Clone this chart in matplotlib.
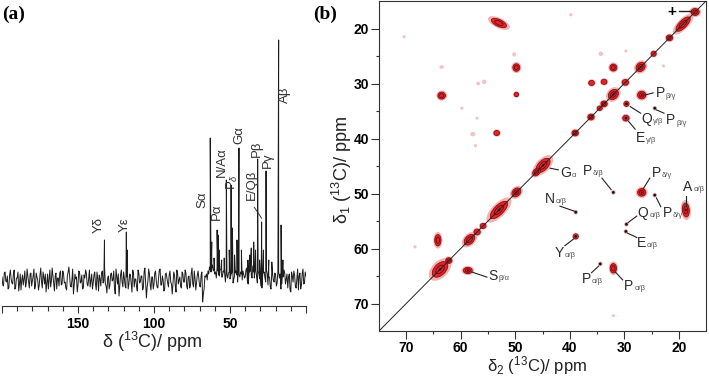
import numpy as np
import matplotlib
matplotlib.use("Agg")
import matplotlib.pyplot as plt
from matplotlib.patches import Ellipse

plt.rcParams["font.family"] = ["Liberation Sans", "DejaVu Sans"]
plt.rcParams["mathtext.fontset"] = "custom"
plt.rcParams["mathtext.rm"] = "Liberation Sans"
plt.rcParams["mathtext.it"] = "Liberation Sans:italic"
plt.rcParams["mathtext.bf"] = "Liberation Sans:bold"

# -----------------------------
# (a) 1D 13C spectrum data
# -----------------------------
noise_ppm = list(range(200, -1, -1))
noise = [
    3, -6, 8, -2, -9, 5, 1, -4, 10, -7, 2, -11, 6, 0, -5, 9, -3, 4, -8, 7,
    -1, 11, -6, 3, -10, 5, -2, 8, -4, -12, 6, 1, -7, 12, -3, 4, -9, 2, 7, -5,
    9, -3, -8, 4, 13, -6, 0, -14, 6, 3, -5, 8, -2, -9, 5, 10, -4, 1, -7, 6,
    -3, 8, -10, 2, 5, -6, 9, -1, -4, -13, 4, -5, 7, 0, -8, 11, -4, -16, 5, -2,
    8, -6, 3, -9, 6, -3, 10, -7, 1, -11, 7, -2, 4, -8, 12, -18, -1, 6, -10, 3,
    -4, 9, -7, 2, 11, -5, 0, -9, 7, -3, 5, -2, -14, 8, -6, 10, -4, 3, -8, 6,
    -2, 7, -9, 4, -5, 12, -7, 1, -3, 9, -6, 5, -22, -8, 3, 0, 6, 10, 12, 9,
    6, 2, 9, 4, 11, 3, 8, -2, 5, 7, 1, 6, -3, 4, 9, -2, 5, 8, 0, 6,
    3, 12, -4, 8, 5, 14, 2, 9, -3, 6, 4, -8, 7, 2, 10, -5, 3, -9, 6, -2,
    5, -3, 8, 6, -4, 3, 7, 1, -8, 6, -12, 4, 9, -6, 2, -10, 7, -5, 11, -3,
    4,
]
half_ppm = [199.5 - i for i in range(200)]
noise_half = [
    -5, 7, -1, 4, -8, 10, -3, 6, -9, 2, 8, -4, -10, 5, 1, -7, 11, -2, 6, -6,
    4, -9, 7, 0, -5, 12, -8, 3, 6, -3, -9, 10, -1, 4, -11, 7, 2, -6, 9, -4,
    6, -2, -10, 8, 3, -7, 11, -5, 1, -12, 9, -3, 5, -8, 2, 7, -6, 10, -1, -9,
    5, -4, 8, -11, 1, 7, -3, 12, -6, 2, -9, 6, -1, 9, -14, 3, 6, -5, 10, -7,
    2, -8, 9, -4, 5, -12, 7, 1, -6, 10, -3, 4, -10, 8, -2, -7, 11, -5, 3, -9,
    7, -1, -8, 10, -5, 4, -11, 6, 2, -7, 9, -4, -3, 5, -12, 7, 0, -6, 8, -2,
    10, -6, 3, -8, 7, -4, 9, -10, 5, 1, -7, 8, -14, 4, 6, 9, 13, 8, 15, 11,
    8, 12, 5, 10, 3, 9, 6, 11, 2, 8, 4, 10, 1, 7, 5, 12, 3, 6, 9, 2,
    10, -3, 7, 11, 2, 8, 12, 4, 9, 1, -6, 5, 8, -2, 6, 3, -7, 9, 0, 7,
    -6, 9, 2, -9, 7, 10, -4, 6, 3, -10, 8, -2, 5, -8, 11, 4, -9, 6, -4, 8,
]
peak_ppm = [132.6, 118.2, 117.6, 63.0, 62.0, 60.5, 58.5, 57.8, 57.0, 55.5,
            53.8, 52.4, 50.5, 49.3, 48.4, 47.0, 45.4, 44.1, 42.5, 38.2,
            37.0, 36.0, 34.4, 33.2, 31.8, 30.5, 29.2, 28.0, 26.3, 24.5,
            22.5, 18.0, 16.4, 15.2]
peak_height = [40, 48, 30, 142, 38, 22, 50, 45, 30, 20,
               22, 100, 30, 95, 52, 25, 40, 132, 30, 20,
               25, 32, 38, 30, 121, 20, 58, 30, 109, 20,
               18, 240, 55, 20]

label_a = ["Y\u03b4", "Y\u03b5", "S\u03b1", "P\u03b1", "N/A\u03b1", "P$_\u03b4$",
           "G\u03b1", "E/Q\u03b2", "P\u03b2", "P\u03b3", "A\u03b2"]
label_a_ppm = [136.4, 119.1, 68.0, 58.8, 55.6, 48.2, 44.1, 35.7, 32.2, 25.2, 13.8]
label_a_y = [47, 48, 72, 60, 103, 90, 136, 80, 123, 112, 177]

# -----------------------------
# (b) 2D 13C-13C correlation data
# -----------------------------
red_x = [17.0, 19.2, 21.7, 24.6, 27.0, 29.8, 32.0, 33.7, 34.5, 36.1,
         39.0, 44.9, 46.1, 49.8, 53.0, 55.9, 57.0, 58.4, 62.2, 63.8,
         53.0, 49.8, 49.8, 63.5, 32.0, 36.0, 33.7, 26.8, 29.6, 29.7,
         53.4, 57.8, 55.7, 56.8, 63.5, 50.2, 34.3, 57.0, 64.2, 58.7,
         26.8, 18.7, 38.9, 32.0, 32.0, 68.4, 70.4, 57.3, 39.8, 29.7,
         22.8, 59.8, 18.0]
red_y = [17.0, 19.2, 21.7, 24.6, 27.0, 29.8, 32.0, 33.7, 34.5, 36.1,
         39.0, 44.9, 46.1, 49.8, 53.0, 55.9, 57.0, 58.4, 62.2, 63.8,
         19.0, 27.1, 32.0, 32.2, 27.1, 29.9, 29.7, 32.1, 33.7, 36.3,
         39.0, 39.2, 29.7, 30.0, 27.0, 24.7, 24.6, 36.3, 58.5, 64.0,
         49.8, 53.0, 57.8, 63.6, 72.2, 59.7, 21.5, 41.3, 17.5, 24.1,
         26.8, 34.5, 18.5]
red_w = [1.3, 3.0, 1.0, 0.8, 1.6, 1.0, 1.8, 1.0, 0.8, 1.0,
         1.0, 2.8, 1.4, 1.6, 3.6, 0.9, 1.0, 2.0, 1.0, 3.0,
         2.6, 1.1, 0.7, 1.2, 1.1, 0.8, 0.8, 1.3, 0.8, 1.0,
         0.9, 0.8, 0.7, 0.6, 0.7, 0.6, 0.7, 0.5, 1.8, 1.4,
         1.3, 2.2, 0.8, 1.5, 0.5, 0.5, 0.5, 0.5, 0.5, 0.5,
         0.5, 0.5, 1.0]
red_h = [1.1, 1.2, 0.9, 0.8, 1.3, 0.9, 1.4, 0.9, 0.7, 0.9,
         0.9, 1.5, 1.0, 1.2, 1.5, 0.8, 0.9, 1.3, 0.9, 1.8,
         1.1, 1.2, 0.7, 1.1, 1.1, 0.9, 0.9, 1.2, 0.8, 0.9,
         0.8, 0.7, 0.7, 0.6, 0.6, 0.7, 0.7, 0.5, 1.0, 1.0,
         1.2, 1.1, 0.8, 1.0, 0.5, 0.5, 0.5, 0.5, 0.5, 0.5,
         0.5, 0.5, 0.8]
red_tilt = [0, 45, 0, 0, 45, 0, 45, 0, 0, 0,
            0, 45, 45, 45, 45, 0, 0, 45, 0, 45,
            155, 0, 0, 0, 0, 90, 90, 0, 0, 0,
            0, 0, 0, 0, 0, 0, 0, 0, 90, 0,
            0, 95, 0, 90, 0, 0, 0, 0, 0, 0,
            0, 0, 0]
red_level = [3, 3, 3, 2, 4, 2, 4, 3, 2, 3,
             3, 4, 3, 4, 4, 2, 2, 3, 3, 4,
             3, 3, 2, 3, 3, 2, 2, 4, 2, 2,
             2, 1, 1, 1, 1, 1, 1, 1, 3, 4,
             4, 4, 2, 3, 1, 1, 1, 1, 1, 1,
             1, 1, 1]

black_x = [32.0, 24.4, 38.9, 29.6, 29.7, 34.4, 24.4, 29.6, 29.7, 38.9]
black_y = [49.8, 50.3, 53.4, 55.6, 56.9, 62.8, 34.5, 33.7, 36.3, 57.8]

b_main = ["P", "Q", "P", "E", "G", "P", "P", "A", "P", "Q", "E", "N", "Y", "P", "P", "S"]
b_sub = ["\u03b2/\u03b3", "\u03b3/\u03b2", "\u03b2/\u03b3", "\u03b3/\u03b2", "\u03b1",
         "\u03b4/\u03b2", "\u03b4/\u03b3", "\u03b1/\u03b2", "\u03b4/\u03b3", "\u03b1/\u03b2",
         "\u03b1/\u03b2", "\u03b1/\u03b2", "\u03b1/\u03b2", "\u03b1/\u03b2", "\u03b1/\u03b2",
         "\u03b2/\u03b1"]
b_tx = [24.2, 26.8, 22.3, 27.8, 41.8, 37.6, 25.0, 19.2, 22.9, 27.5, 27.7, 44.5, 42.7, 37.8, 30.0, 55.0]
b_ty = [32.5, 37.2, 37.4, 40.6, 47.0, 46.6, 47.0, 49.5, 54.3, 54.3, 59.7, 51.7, 61.5, 66.3, 67.5, 65.7]
lead_x0 = [26.2, 28.9, 24.1, 29.2, 43.6, 32.4, 26.5, 18.7, 24.1, 29.3, 29.4, 39.2, 39.2, 34.7, 31.6, 57.9]
lead_y0 = [32.1, 34.2, 34.8, 36.9, 45.4, 49.3, 49.1, 50.4, 50.8, 55.3, 57.2, 53.2, 58.2, 63.2, 64.3, 64.3]
lead_x1 = [24.7, 27.0, 22.7, 28.0, 42.1, 34.1, 25.3, 18.7, 23.3, 27.7, 27.7, 41.8, 40.9, 36.0, 30.3, 55.2]
lead_y1 = [31.7, 35.4, 35.4, 38.3, 45.7, 47.2, 47.2, 52.2, 52.4, 54.1, 58.0, 52.3, 59.5, 64.4, 65.7, 65.2]

# -----------------------------
# FIGURE
# -----------------------------
fig = plt.figure(figsize=(7.09, 3.78), dpi=100)

# ---- panel (a)
ax_a = fig.add_axes([2 / 709, 72 / 378, 304 / 709, 276 / 378])
xs = np.array(noise_ppm + half_ppm + peak_ppm, dtype=float)
ys = np.array(noise + noise_half + peak_height, dtype=float)
order = np.argsort(xs)
ax_a.plot(xs[order], ys[order], color="#1c1c1c", lw=0.7)
ax_a.set_xlim(200, 0)
ax_a.set_ylim(-26, 250)
for s in ["left", "right", "top"]:
    ax_a.spines[s].set_visible(False)
ax_a.spines["bottom"].set_linewidth(0.8)
ax_a.spines["bottom"].set_color("#333333")
ax_a.set_yticks([])
ax_a.set_xticks([200, 150, 100, 50, 0])
ax_a.set_xticklabels(["", "150", "100", "50", ""], fontweight="bold")
ax_a.set_xticks(range(0, 201, 10), minor=True)
ax_a.tick_params(axis="x", which="major", length=5, width=0.8, labelsize=10, pad=3, color="#333333")
ax_a.tick_params(axis="x", which="minor", length=3.5, width=0.8, color="#333333")

for name, lx, ly in zip(label_a, label_a_ppm, label_a_y):
    ax_a.text(lx, ly, name, rotation=90, ha="center", va="bottom",
              fontsize=9.5, color="#333333")
ax_a.plot([34.0, 29.2], [72.7, 61.7], color="#333333", lw=0.7)

fig.text(152 / 709, 1 - 342 / 378, "\u03b4 ($^{13}$C)/ ppm", ha="center", va="center",
         fontsize=13, color="#222222")

# ---- panel (b)
ax_b = fig.add_axes([379 / 709, 47 / 378, 327 / 709, 330 / 378])
ax_b.set_xlim(75, 15)
ax_b.set_ylim(75, 15)

k = 1.15
for x, y, w, h, t, lv in zip(red_x, red_y, red_w, red_h, red_tilt, red_level):
    w, h = w * k, h * k
    if lv == 1:
        ax_b.add_patch(Ellipse((x, y), w, h, angle=t, fc="#f3c2c2", ec="none", zorder=1))
        continue
    ax_b.add_patch(Ellipse((x, y), w * 1.45, h * 1.45, angle=t, fc="#f5b0b0", ec="none", zorder=1))
    ax_b.add_patch(Ellipse((x, y), w, h, angle=t, fc="#e4242b", ec="#8a0c10", lw=0.6, zorder=2))
    if lv >= 3:
        ax_b.add_patch(Ellipse((x, y), w * 0.55, h * 0.55, angle=t, fc="none",
                               ec="#6a0808", lw=0.6, zorder=3))
    if lv == 4:
        ax_b.add_patch(Ellipse((x, y), max(w * 0.2, 0.35), max(h * 0.2, 0.35), angle=t,
                               fc="#111111", ec="none", zorder=4))

for x, y in zip(black_x, black_y):
    ax_b.add_patch(Ellipse((x, y), 0.8, 0.8, fc="#d04040", ec="none", alpha=0.55, zorder=4))
    ax_b.add_patch(Ellipse((x, y), 0.5, 0.5, fc="#111111", ec="none", zorder=5))

ax_b.plot([75, 15], [75, 15], color="#222222", lw=0.7, zorder=6)

for m, sub, tx, ty in zip(b_main, b_sub, b_tx, b_ty):
    t = ax_b.text(tx, ty, m, fontsize=10, color="#2a2a2a", ha="left", va="baseline", zorder=7)
    ax_b.annotate(sub, xy=(1.0, 0.0), xycoords=t, xytext=(0.6, 0.5),
                  textcoords="offset points", ha="left", va="bottom",
                  fontsize=5.5, color="#555555", zorder=7)
for x0, y0, x1, y1 in zip(lead_x0, lead_y0, lead_x1, lead_y1):
    ax_b.plot([x0, x1], [y0, y1], color="#222222", lw=0.8, zorder=7)

ax_b.text(21.3, 17.0, "+", fontsize=11, fontweight="bold", ha="center", va="center", zorder=7)
ax_b.plot([19.9, 17.7], [16.9, 16.9], color="#222222", lw=1.0, zorder=7)

ax_b.set_xticks([70, 60, 50, 40, 30, 20])
ax_b.set_yticks([20, 30, 40, 50, 60, 70])
ax_b.set_xticks([65, 55, 45, 35, 25], minor=True)
ax_b.set_yticks([25, 35, 45, 55, 65], minor=True)
for lab in ax_b.get_xticklabels() + ax_b.get_yticklabels():
    lab.set_fontweight("bold")
ax_b.tick_params(which="major", length=5.5, width=0.8, labelsize=10, pad=1.5, color="#333333")
ax_b.tick_params(which="minor", length=2.5, width=0.8, color="#333333")
for s in ax_b.spines.values():
    s.set_linewidth(0.8)
    s.set_color("#333333")

fig.text(342 / 709, 1 - 170 / 378, "\u03b4$_1$ ($^{13}$C)/ ppm", rotation=90,
         ha="center", va="center", fontsize=13, color="#222222")
fig.text(537 / 709, 1 / 378, "\u03b4$_2$ ($^{13}$C)/ ppm", ha="center", va="bottom",
         fontsize=12, color="#222222")

fig.text(2 / 709, 1 - 6 / 378, "(a)", family="Liberation Serif", fontweight="bold",
         fontsize=14, ha="left", va="top")
fig.text(313 / 709, 1 - 6 / 378, "(b)", family="Liberation Serif", fontweight="bold",
         fontsize=14, ha="left", va="top")

fig.savefig("out.png", dpi=100)
